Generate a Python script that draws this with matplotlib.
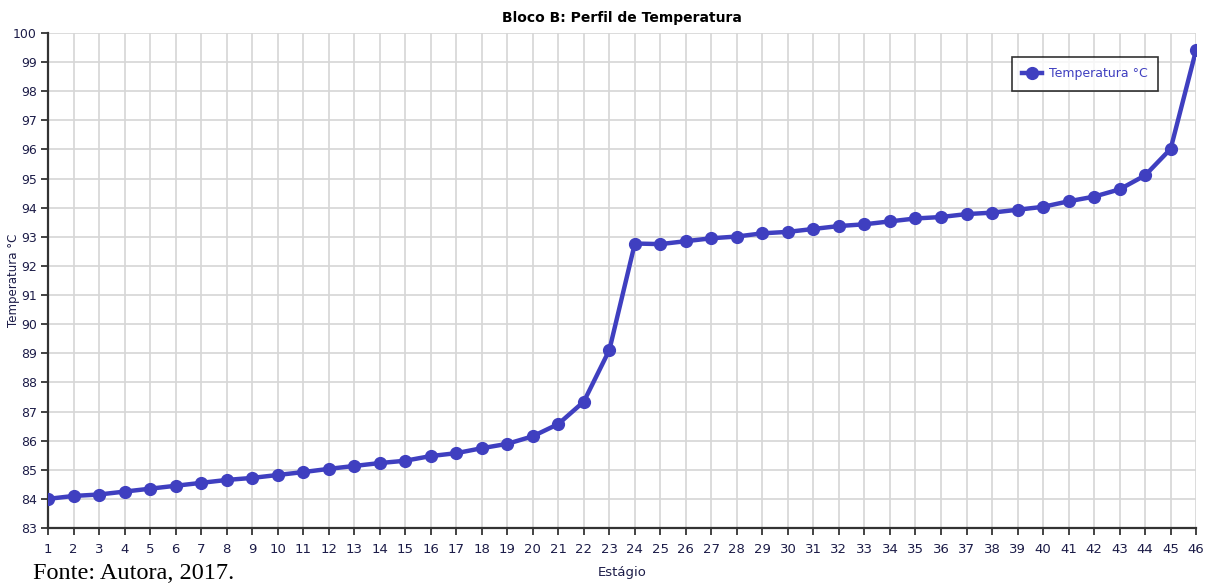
import matplotlib.pyplot as plt

# Perfil de temperatura por estágio (Bloco B)
estagios = list(range(1, 47))
temperatura = [
    84.00, 84.10, 84.15, 84.25, 84.35, 84.45, 84.55, 84.65, 84.72, 84.82,
    84.92, 85.03, 85.13, 85.23, 85.31, 85.47, 85.57, 85.74, 85.89, 86.15,
    86.57, 87.34, 89.11, 92.77, 92.75, 92.85, 92.95, 93.01, 93.12, 93.17,
    93.27, 93.37, 93.43, 93.53, 93.63, 93.68, 93.78, 93.83, 93.93, 94.03,
    94.22, 94.38, 94.63, 95.11, 96.02, 99.42,
]
yticks = list(range(83, 101))

azul = '#3f3fc0'
tinta = '#1c1c48'

fig = plt.figure(figsize=(12.13, 5.84), dpi=100)
ax = fig.add_axes([0.0396, 0.0959, 0.9465, 0.8476])

ax.plot(estagios, temperatura, color=azul, linewidth=3.2, marker='o',
        markersize=8.5, label='Temperatura °C', zorder=3)

ax.set_xlim(1, 46)
ax.set_ylim(83, 100)
ax.set_xticks(estagios)
ax.set_yticks(yticks)
ax.grid(True, color='#d6d6d6', linewidth=1.2)
ax.set_axisbelow(True)

for s in ['top', 'right']:
    ax.spines[s].set_visible(False)
for s in ['left', 'bottom']:
    ax.spines[s].set_linewidth(1.6)
    ax.spines[s].set_color('#333333')
ax.tick_params(length=5, width=1.2, colors='#222222', labelcolor=tinta)
ax.tick_params(axis='y', pad=3, labelsize=9)
ax.tick_params(axis='x', pad=6, labelsize=9.5)

ax.set_title('Bloco B: Perfil de Temperatura', fontsize=10, fontweight='bold',
             pad=8)
ax.set_xlabel('Estágio', fontsize=9.5, color=tinta, labelpad=7)
ax.set_ylabel('Temperatura °C', fontsize=8.5, color=tinta)
ax.yaxis.set_label_coords(-0.0245, 0.5)

leg = ax.legend(loc='upper left', bbox_to_anchor=(0.8395, 0.952), frameon=True,
                fancybox=False, edgecolor='black', fontsize=9, handlelength=1.6,
                handletextpad=0.5, borderpad=0.85, borderaxespad=0)
leg.get_frame().set_linewidth(1.2)
for t in leg.get_texts():
    t.set_color(azul)

fig.text(0.027, 0.008, 'Fonte: Autora, 2017.', family='Liberation Serif',
         fontsize=17.5, color='black')

fig.savefig('out.png', dpi=100)
